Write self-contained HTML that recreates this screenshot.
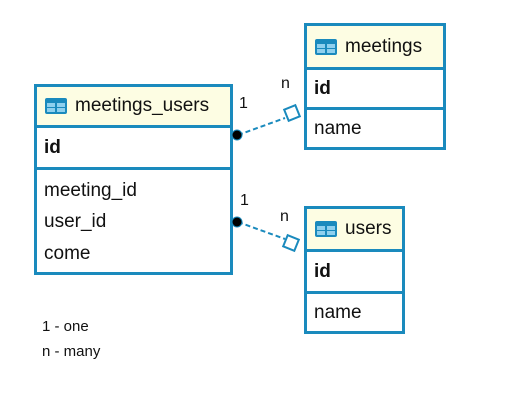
<!DOCTYPE html>
<html><head><style>
body{margin:0;width:509px;height:400px;background:#fff;position:relative;font-family:"Liberation Sans",sans-serif;overflow:hidden}
.t{position:absolute;border:3px solid #1a8abd;box-sizing:border-box;background:#fff}
.h{background:#fdfde3;border-bottom:3px solid #1a8abd;box-sizing:border-box;display:flex;align-items:center;padding-left:8px;font-size:19px;color:#111}
.ic{width:22px;height:16px;margin-right:8px;position:relative;background:#1a8abd;border-radius:2px}
.ic i{position:absolute;background:#8fd0ee}
.r{box-sizing:border-box;padding-left:7px;font-size:19px;color:#111;display:flex;align-items:center}
.b{font-weight:bold;border-bottom:3px solid #1a8abd}
.l{position:absolute;font-size:15px;color:#111}
</style></head><body>
<div class="t" style="left:34px;top:84px;width:199px;height:191px">
 <div class="h" style="height:41px"><div class="ic"><i style="left:2px;top:5px;width:8px;height:4px"></i><i style="left:12px;top:5px;width:8px;height:4px"></i><i style="left:2px;top:10px;width:8px;height:4px"></i><i style="left:12px;top:10px;width:8px;height:4px"></i></div>meetings_users</div>
 <div class="r b" style="height:42px">id</div>
 <div class="r" style="height:36px;padding-top:6px">meeting_id</div>
 <div class="r" style="height:32px">user_id</div>
 <div class="r" style="height:32px">come</div>
</div>
<div class="t" style="left:304px;top:23px;width:142px;height:127px">
 <div class="h" style="height:44px"><div class="ic"><i style="left:2px;top:5px;width:8px;height:4px"></i><i style="left:12px;top:5px;width:8px;height:4px"></i><i style="left:2px;top:10px;width:8px;height:4px"></i><i style="left:12px;top:10px;width:8px;height:4px"></i></div>meetings</div>
 <div class="r b" style="height:40px">id</div>
 <div class="r" style="height:37px">name</div>
</div>
<div class="t" style="left:304px;top:206px;width:101px;height:128px">
 <div class="h" style="height:43px"><div class="ic"><i style="left:2px;top:5px;width:8px;height:4px"></i><i style="left:12px;top:5px;width:8px;height:4px"></i><i style="left:2px;top:10px;width:8px;height:4px"></i><i style="left:12px;top:10px;width:8px;height:4px"></i></div>users</div>
 <div class="r b" style="height:42px">id</div>
 <div class="r" style="height:37px">name</div>
</div>
<svg width="509" height="400" style="position:absolute;left:0;top:0">
 <line x1="238" y1="135" x2="285" y2="118" stroke="#1a8abd" stroke-width="2" stroke-dasharray="5,3"/>
 <circle cx="237" cy="135" r="5" fill="#000" stroke="#1a8abd" stroke-width="1"/>
 <rect x="286" y="107" width="12" height="12" fill="#fff" stroke="#1a8abd" stroke-width="2" transform="rotate(-22 292 113)"/>
 <line x1="238" y1="222" x2="285" y2="239" stroke="#1a8abd" stroke-width="2" stroke-dasharray="5,3"/>
 <circle cx="237" cy="222" r="5" fill="#000" stroke="#1a8abd" stroke-width="1"/>
 <rect x="285" y="237" width="12" height="12" fill="#fff" stroke="#1a8abd" stroke-width="2" transform="rotate(22 291 243)"/>
</svg>
<div class="l" style="left:239px;top:95px;font-size:16px">1</div>
<div class="l" style="left:281px;top:75px;font-size:16px">n</div>
<div class="l" style="left:240px;top:192px;font-size:16px">1</div>
<div class="l" style="left:280px;top:208px;font-size:16px">n</div>
<div class="l" style="left:42px;top:318px">1 - one</div>
<div class="l" style="left:42px;top:343px">n - many</div>
</body></html>
